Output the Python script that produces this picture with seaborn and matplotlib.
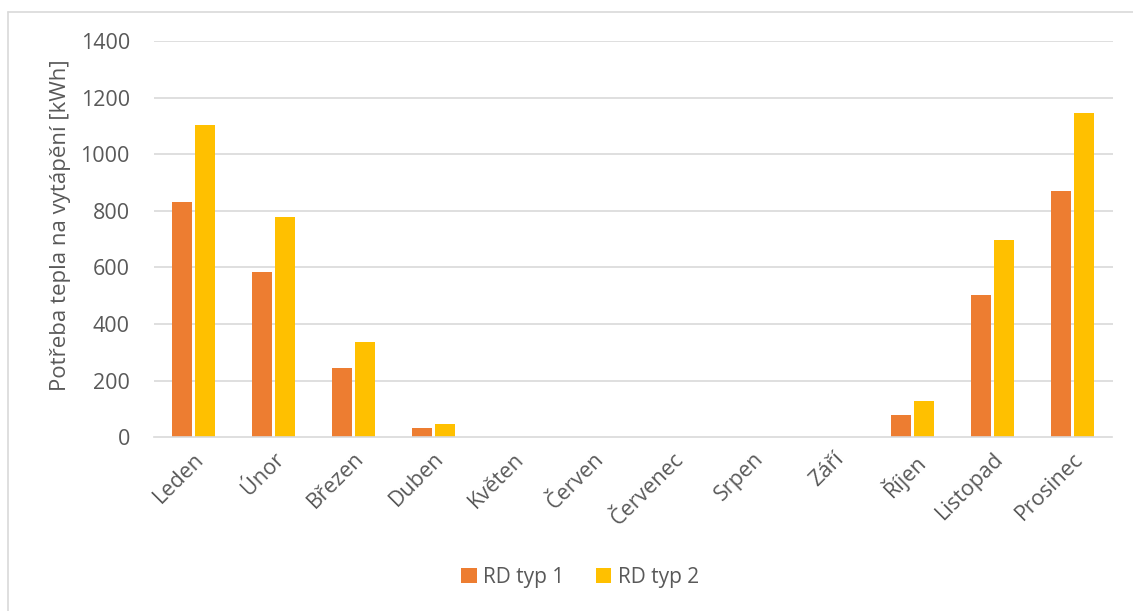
import pandas as pd
import seaborn as sns
import matplotlib.pyplot as plt
from matplotlib.lines import Line2D

# monthly heating demand
months = ['Leden', 'Únor', 'Březen', 'Duben', 'Květen', 'Červen',
          'Červenec', 'Srpen', 'Září', 'Říjen', 'Listopad', 'Prosinec']
rd_typ1 = [832, 584, 246, 32, 0, 0, 0, 0, 0, 79, 502, 869]
rd_typ2 = [1105, 778, 336, 47, 0, 0, 0, 0, 0, 127, 696, 1146]
series_names = ['RD typ 1', 'RD typ 2']
y_ticks = [0, 200, 400, 600, 800, 1000, 1200, 1400]

df = pd.DataFrame({
    'month': months * 2,
    'value': rd_typ1 + rd_typ2,
    'series': [series_names[0]] * 12 + [series_names[1]] * 12,
})

sns.set_style('white')
plt.rcParams['font.family'] = ['Open Sans', 'DejaVu Sans']
text_col = '#595959'
grid_col = '#D9D9D9'

fig = plt.figure(figsize=(11.33, 6.11), dpi=100)
ax = fig.add_axes([153.5 / 1133, 1 - 437.3 / 611, 959 / 1133, 396.3 / 611])

sns.barplot(data=df, x='month', y='value', hue='series', order=months,
            palette=['#ED7D31', '#FFC000'], width=0.575, gap=0.14,
            saturation=1, linewidth=0, ax=ax, legend=True)

ax.set_ylim(0, 1400)
ax.set_xlim(-0.5, 11.5)
ax.set_yticks(y_ticks)
ax.set_yticklabels([str(t) for t in y_ticks])
for t in y_ticks[1:]:
    ax.axhline(t, color=grid_col, lw=1.2, zorder=0)
ax.set_axisbelow(True)

for side in ['top', 'right', 'left']:
    ax.spines[side].set_visible(False)
ax.spines['bottom'].set_color(grid_col)
ax.spines['bottom'].set_linewidth(1.2)

ax.tick_params(axis='y', length=0, pad=17, labelsize=15.5, labelcolor=text_col)
ax.tick_params(axis='x', length=0, pad=8, labelsize=15.5, labelcolor=text_col)
plt.setp(ax.get_xticklabels(), rotation=45, ha='right', rotation_mode='anchor')

ax.set_xlabel('')
ax.set_ylabel('Potřeba tepla na vytápění [kWh]', fontsize=16, color=text_col)
ax.yaxis.set_label_coords(-0.086, 0.535)

# legend at bottom
handles, labels = ax.get_legend_handles_labels()
ax.get_legend().remove()
fig.legend(handles, labels, loc='center', bbox_to_anchor=(580 / 1133, 1 - 577 / 611),
           ncol=2, frameon=False, fontsize=15, labelcolor=text_col,
           handlelength=0.75, handleheight=0.75, handletextpad=0.3, columnspacing=1.5)

# chart frame (left and top edges visible)
fig.add_artist(Line2D([8 / 1133, 8 / 1133], [0, 1 - 12 / 611], color=grid_col, lw=1.2))
fig.add_artist(Line2D([8 / 1133, 1], [1 - 12 / 611, 1 - 12 / 611], color=grid_col, lw=1.2))

fig.savefig('out.png', dpi=100)
